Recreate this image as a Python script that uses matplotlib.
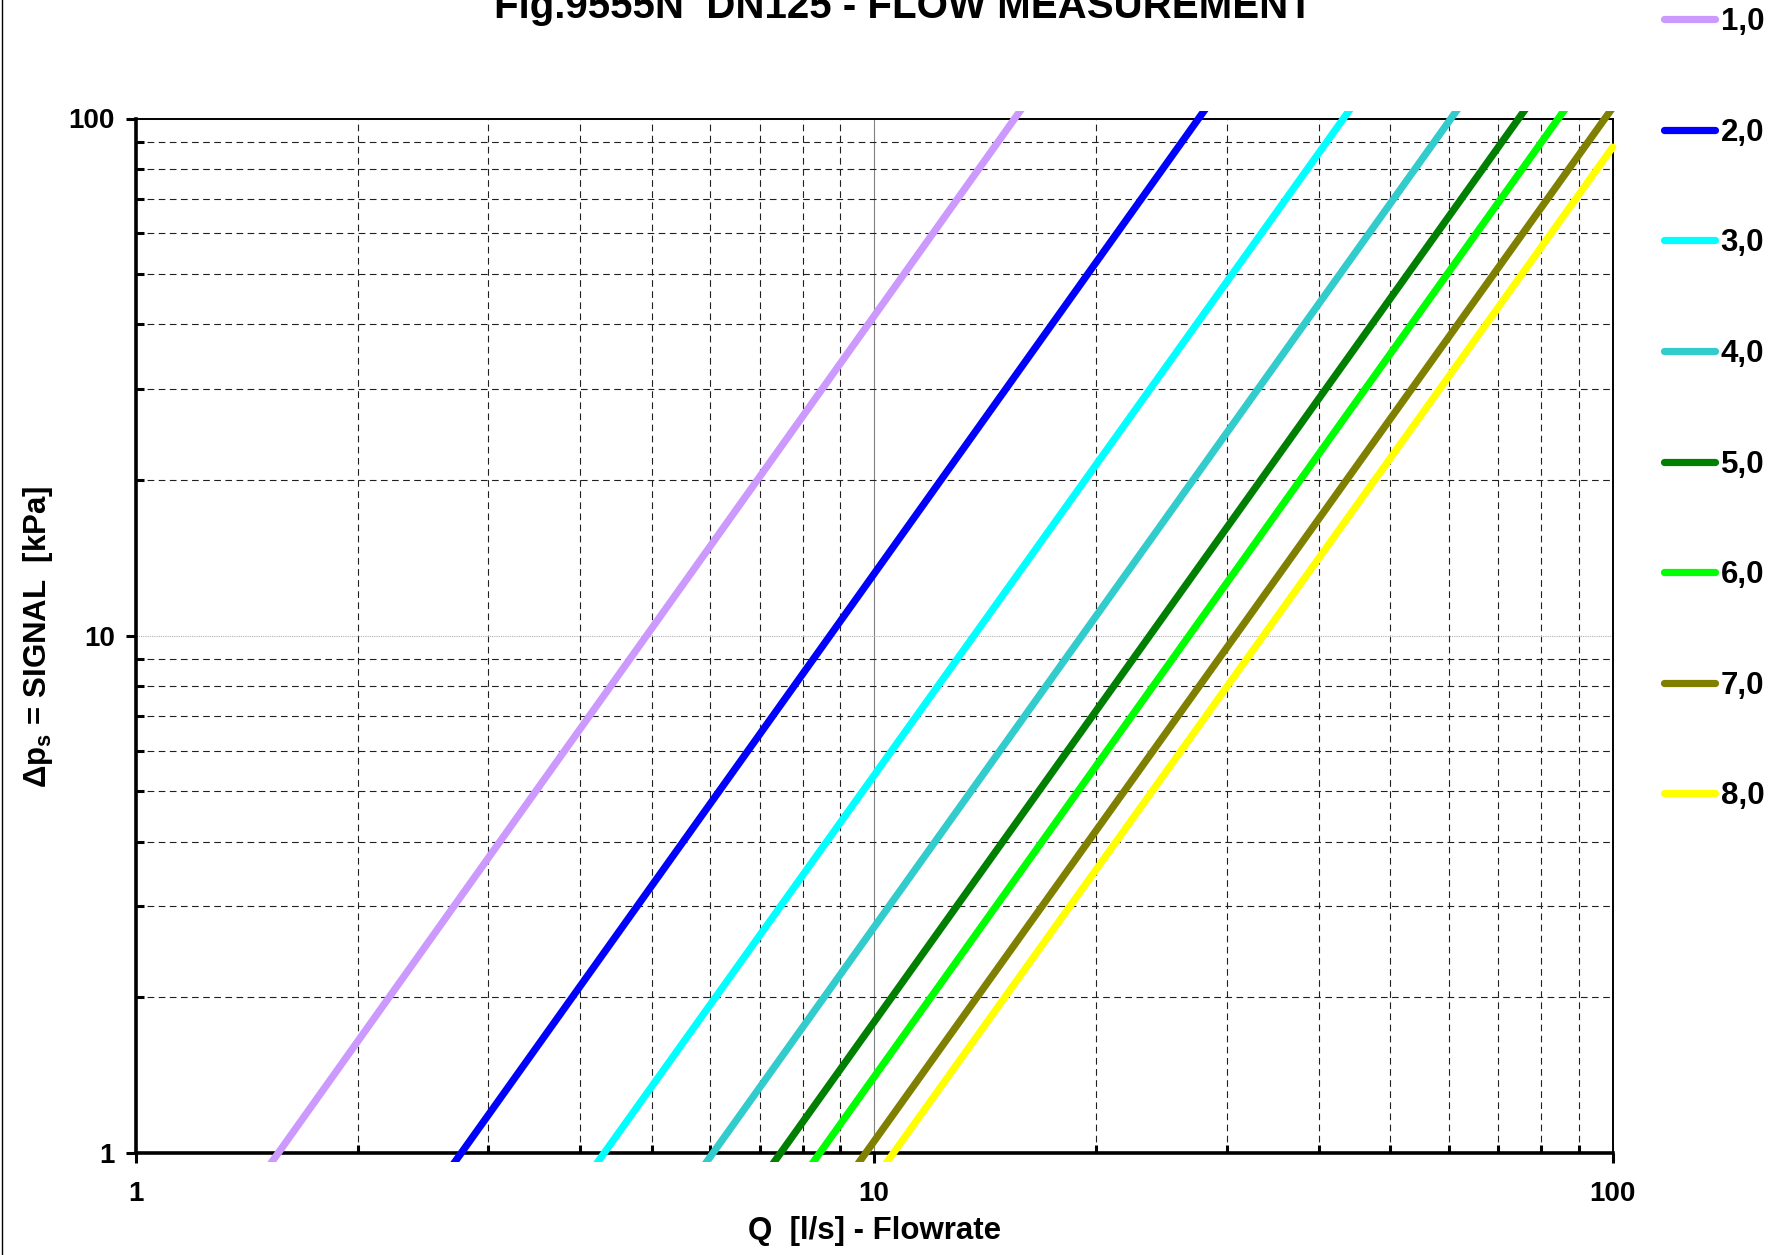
import numpy as np
import matplotlib
matplotlib.use("Agg")
import matplotlib.pyplot as plt
from matplotlib.lines import Line2D
from matplotlib.patches import Rectangle
from matplotlib.ticker import LogLocator, NullFormatter, FixedLocator, FixedFormatter

plt.rcParams['font.family'] = ['Liberation Sans', 'DejaVu Sans']
plt.rcParams['font.weight'] = 'bold'
plt.rcParams['mathtext.fontset'] = 'custom'
plt.rcParams['mathtext.rm'] = 'Liberation Sans:bold'
plt.rcParams['mathtext.it'] = 'Liberation Sans:bold'
plt.rcParams['mathtext.bf'] = 'Liberation Sans:bold'

# Valve opening settings and their flow curves (two read points per curve)
openings = ["1,0", "2,0", "3,0", "4,0", "5,0", "6,0", "7,0", "8,0"]
colors = ["#CC99FF", "#0000FF", "#00FFFF", "#33CCCC",
          "#008000", "#00FF00", "#808000", "#FFFF00"]
q_low = [1.56, 2.76, 4.31, 6.05, 7.47, 8.44, 9.74, 10.62]      # Q [l/s] at dp_low
dp_low = [1.0, 1.0, 1.0, 1.0, 1.0, 1.0, 1.0, 1.0]              # kPa
q_high = [15.5, 27.5, 43.2, 60.4, 74.6, 84.4, 97.6, 100.0]     # Q [l/s] at dp_high
dp_high = [100.0, 100.0, 100.0, 100.0, 100.0, 100.0, 100.0, 88.0]  # kPa

x_ticks = [1, 10, 100]
x_ticklabels = ["1", "10", "100"]
y_ticks = [1, 10, 100]
y_ticklabels = ["1", "10", "100"]

W, H = 1787, 1255
fig = plt.figure(figsize=(W / 100, H / 100), dpi=100)
ax_l, ax_b, ax_r, ax_t = 135.6, 1153.0, 1612.7, 118.5
ax = fig.add_axes([ax_l / W, 1 - ax_b / H, (ax_r - ax_l) / W, (ax_b - ax_t) / H])
ax.set_xscale('log')
ax.set_yscale('log')
ax.set_xlim(1, 100)
ax.set_ylim(1, 100)

# grid: dashed minor lines, thin solid/dotted major lines
ax.set_axisbelow(True)
ax.xaxis.set_minor_locator(LogLocator(base=10, subs=np.arange(2, 10)))
ax.yaxis.set_minor_locator(LogLocator(base=10, subs=np.arange(2, 10)))
ax.xaxis.set_minor_formatter(NullFormatter())
ax.yaxis.set_minor_formatter(NullFormatter())
ax.grid(which='minor', axis='both', color='#202020', lw=0.8, linestyle=(0, (6, 4)))
ax.grid(which='major', axis='x', color='#808080', lw=0.8, linestyle='-')
ax.grid(which='major', axis='y', color='#b0b0b0', lw=0.8, linestyle=(0, (1, 1)))

ax.xaxis.set_major_locator(FixedLocator(x_ticks))
ax.xaxis.set_major_formatter(FixedFormatter(x_ticklabels))
ax.yaxis.set_major_locator(FixedLocator(y_ticks))
ax.yaxis.set_major_formatter(FixedFormatter(y_ticklabels))

ax.tick_params(which='major', direction='out', length=7, width=2.2, labelsize=20, pad=8)
ax.tick_params(which='minor', direction='in', length=5.5, width=2.2)
ax.tick_params(axis='x', which='major', pad=13)
for lab in ax.get_xticklabels() + ax.get_yticklabels():
    lab.set_fontweight('bold')

ax.spines['left'].set_linewidth(2.6)
ax.spines['bottom'].set_linewidth(2.6)
ax.spines['top'].set_linewidth(1.4)
ax.spines['right'].set_linewidth(1.4)

# clip region slightly larger than the plotting area
ax_h_px = ax_b - ax_t
ax_w_px = ax_r - ax_l
clip = Rectangle((-0.01, -9 / ax_h_px), 1.01 + 6 / ax_w_px, 1 + 17 / ax_h_px,
                 transform=ax.transAxes, facecolor='none', edgecolor='none')
ax.add_patch(clip)

handles = []
for lab, c, q1, p1, q2, p2 in zip(openings, colors, q_low, dp_low, q_high, dp_high):
    # straight line in log-log space through the two read points, extended past the frame
    slope = (np.log10(q2) - np.log10(q1)) / (np.log10(p2) - np.log10(p1))
    p_ext = np.array([0.8, 130.0])
    q_ext = 10 ** (np.log10(q1) + slope * (np.log10(p_ext) - np.log10(p1)))
    if q_ext[1] > 100:
        q_ext[1] = 100.0
        p_ext[1] = 10 ** (np.log10(p1) + (np.log10(100.0) - np.log10(q1)) / slope)
    ln, = ax.plot(q_ext, p_ext, color=c, lw=5.2, solid_capstyle='round', zorder=3)
    ln.set_clip_path(clip)
    handles.append(ln)

leg = fig.legend(handles, openings, loc='upper left',
                 bbox_to_anchor=(1664 / W, 1 - 7 / H), frameon=False,
                 fontsize=22.5, handlelength=1.63, handletextpad=0.18,
                 labelspacing=2.58, borderaxespad=0, borderpad=0)
for t in leg.get_texts():
    t.set_fontweight('bold')

fig.text(903 / W, 1 - 18 / H, "Fig.9555N  DN125 - FLOW MEASUREMENT",
         ha='center', va='baseline', fontsize=29, fontweight='bold')
fig.text(874.5 / W, 1 - 1231 / H, "Q  [l/s] - Flowrate",
         ha='center', va='center', fontsize=22.5, fontweight='bold')
fig.text(38 / W, 1 - 637 / H, r"Δp$_\mathrm{s}$ = SIGNAL  [kPa]",
         ha='center', va='center', rotation=90, fontsize=22.5, fontweight='bold')

fig.add_artist(Line2D([1.5 / W, 1.5 / W], [0, 1], color='black', lw=1.0,
                      transform=fig.transFigure))

fig.savefig("out.png", dpi=100)
